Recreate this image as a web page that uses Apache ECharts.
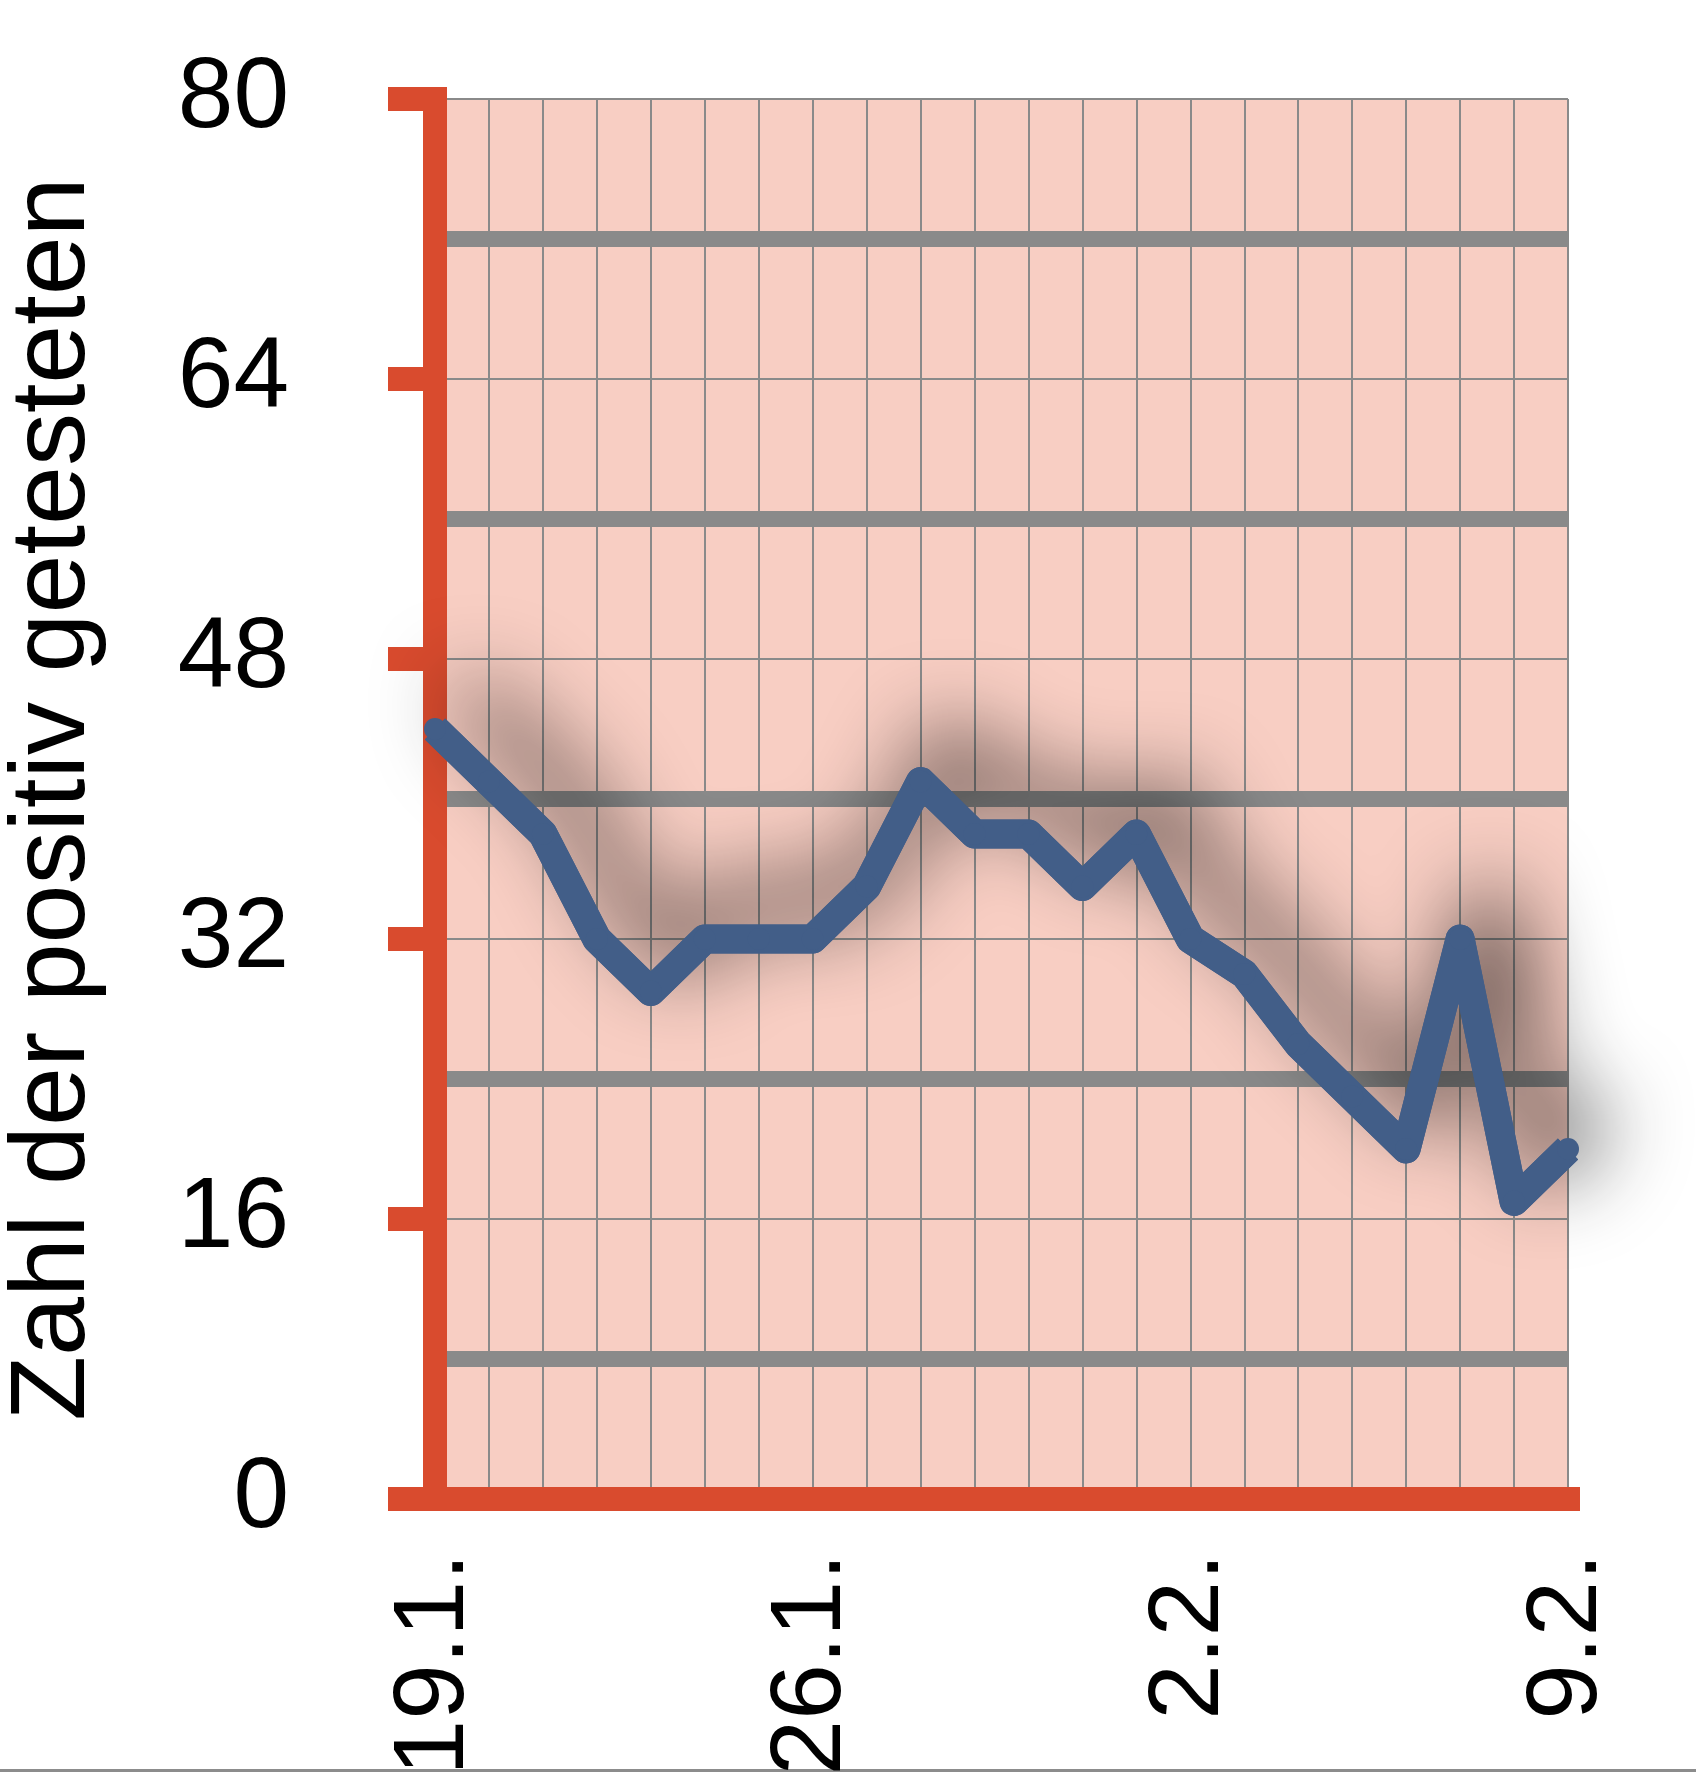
<!DOCTYPE html>
<html>
<head>
<meta charset="utf-8">
<script src="https://cdn.jsdelivr.net/npm/echarts@6/dist/echarts.min.js"></script>
<style>
  html, body { margin: 0; padding: 0; background: #ffffff; }
  #chart { width: 1696px; height: 1772px; }
</style>
</head>
<body>
<div id="chart"></div>
<script>
// Data
const categories = [
  '19.1.', '20.1.', '21.1.', '22.1.', '23.1.', '24.1.', '25.1.', '26.1.',
  '27.1.', '28.1.', '29.1.', '30.1.', '31.1.', '1.2.', '2.2.', '3.2.',
  '4.2.', '5.2.', '6.2.', '7.2.', '8.2.', '9.2.'
];
const positives = [44, 41, 38, 32, 29, 32, 32, 32, 35, 41, 38, 38, 35, 38, 32, 30, 26, 23, 20, 32, 17, 20];
const yAxisName = 'Zahl der positiv getesteten';
const yMin = 0, yMax = 80, yStep = 16;

const RED = '#D94B2E';
const PINK = '#F8CEC3';
const BLUE = '#425E88';
const GRAY = '#8A8A8A';
const FONT = "'Liberation Sans', Arial, sans-serif";

const chart = echarts.init(document.getElementById('chart'), null, { renderer: 'canvas' });

// polyline used only to cast the soft shadow (not clipped to the plot area)
const shadowCoords = categories.map((c, i) => [i, positives[i]]);

chart.setOption({
  animation: false,
  backgroundColor: '#ffffff',
  grid: {
    left: 435, right: 128, top: 99, bottom: 273,
    show: true, backgroundColor: PINK, borderWidth: 0,
    containLabel: false, outerBoundsMode: 'none'
  },
  graphic: [{
    type: 'rect', left: 0, top: 1769,
    shape: { width: 1696, height: 3 },
    style: { fill: '#8C8C8C' }, silent: true
  }],
  xAxis: [
    {
      type: 'category', data: categories, boundaryGap: false, position: 'bottom', z: 2,
      axisLine: { show: true, lineStyle: { color: RED, width: 24, cap: 'square' } },
      axisTick: { show: false },
      axisLabel: {
        interval: 6, rotate: 90, margin: 54, fontSize: 100, color: '#000000',
        fontFamily: FONT, padding: [16, 0, 0, 0]
      },
      splitLine: { show: false }
    },
    {
      type: 'category', data: categories, boundaryGap: false, position: 'top', z: 1,
      axisLine: { show: false }, axisTick: { show: false }, axisLabel: { show: false },
      splitLine: { show: true, interval: 0, lineStyle: { color: GRAY, width: 2 } }
    }
  ],
  yAxis: [
    {
      type: 'value', min: yMin, max: yMax, interval: yStep, position: 'left', z: 3,
      name: yAxisName, nameLocation: 'middle', nameRotate: 90, nameGap: 327,
      nameTextStyle: { fontSize: 106, color: '#000000', fontFamily: FONT },
      axisLine: { show: true, lineStyle: { color: RED, width: 24, cap: 'square' } },
      axisTick: { show: true, length: 47, lineStyle: { color: RED, width: 24 } },
      axisLabel: {
        margin: 146, fontSize: 100, color: '#000000', fontFamily: FONT,
        padding: [15, 0, 0, 0]
      },
      splitLine: { show: false }
    },
    {
      type: 'value', min: yMin, max: yMax, interval: yStep, position: 'right', z: 1,
      axisLine: { show: false }, axisTick: { show: false }, axisLabel: { show: false },
      splitLine: { show: true, lineStyle: { color: GRAY, width: 2 } },
      minorTick: { show: false, splitNumber: 2 },
      minorSplitLine: { show: true, lineStyle: { color: GRAY, width: 16 } }
    }
  ],
  series: [
    {
      type: 'lines', coordinateSystem: 'cartesian2d', xAxisIndex: 0, yAxisIndex: 0,
      polyline: true, clip: false, z: 4, silent: true,
      data: [{ coords: shadowCoords }],
      lineStyle: {
        color: BLUE, width: 29, opacity: 1, curveness: 0, join: 'round',
        shadowColor: 'rgba(0,0,0,0.9)', shadowBlur: 86,
        shadowOffsetX: 30, shadowOffsetY: -37
      },
      emphasis: { disabled: true }
    },
    {
      type: 'line', data: positives, xAxisIndex: 0, yAxisIndex: 0, z: 5,
      clip: false,
      showSymbol: true, symbol: 'circle', symbolSize: 22,
      itemStyle: { color: BLUE },
      lineStyle: { color: BLUE, width: 29, join: 'round', cap: 'butt' },
      emphasis: { disabled: true }
    }
  ]
});
</script>
</body>
</html>
